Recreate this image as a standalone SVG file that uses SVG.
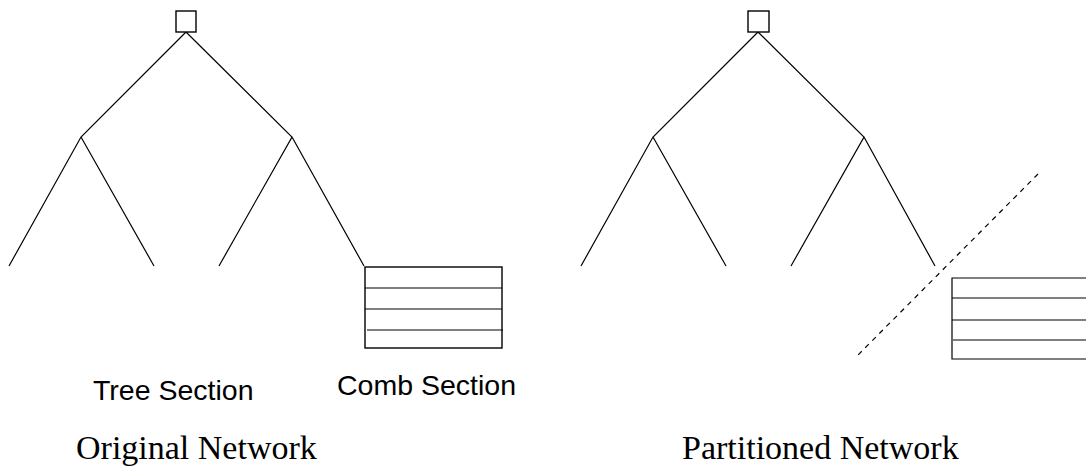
<svg xmlns="http://www.w3.org/2000/svg" width="1086" height="466" viewBox="0 0 1086 466">
<style>
.ln{stroke:#000;stroke-width:1.2;fill:none}
.bx{stroke:#000;stroke-width:1.4;fill:#fff}
.dash{stroke:#000;stroke-width:1.2;fill:none;stroke-dasharray:5,5}
.lab{font-family:"Liberation Sans",Arial,sans-serif;font-size:28.5px;fill:#000}
.ttl{font-family:"Liberation Serif","Times New Roman",serif;font-size:34px;fill:#000}
</style>
<rect width="1086" height="466" fill="#fff"/>
<g id="connectors">
<path class="ln" d="M186,32 L81,137 L9,266 M81,137 L154,266 M186,32 L292,137 L219,266 M292,137 L364,266"/>
<path class="ln" d="M758,32 L653,137 L581,266 M653,137 L726,266 M758,32 L864,137 L791,266 M864,137 L935,266"/>
<line class="dash" x1="1038" y1="174" x2="857" y2="356"/>
</g>
<g id="left-root"><rect class="bx" x="176" y="11" width="20" height="21"/></g>
<g id="right-root"><rect class="bx" x="748" y="11" width="21" height="21"/></g>
<g id="left-comb">
<rect class="bx" x="365" y="267" width="137" height="81"/>
<path class="ln" d="M365,288 H502 M365,309 H502 M367,330 H503"/>
</g>
<g id="right-comb">
<path class="ln" d="M1087,278 H952 V359 H1087 M952,298 H1087 M952,320 H1087 M953,340 H1087"/>
</g>
<g id="labels">
<text class="lab" x="93" y="400">Tree Section</text>
<text class="lab" x="337" y="395">Comb Section</text>
<text class="ttl" x="76" y="459">Original Network</text>
<text class="ttl" x="682" y="459">Partitioned Network</text>
</g>
</svg>
